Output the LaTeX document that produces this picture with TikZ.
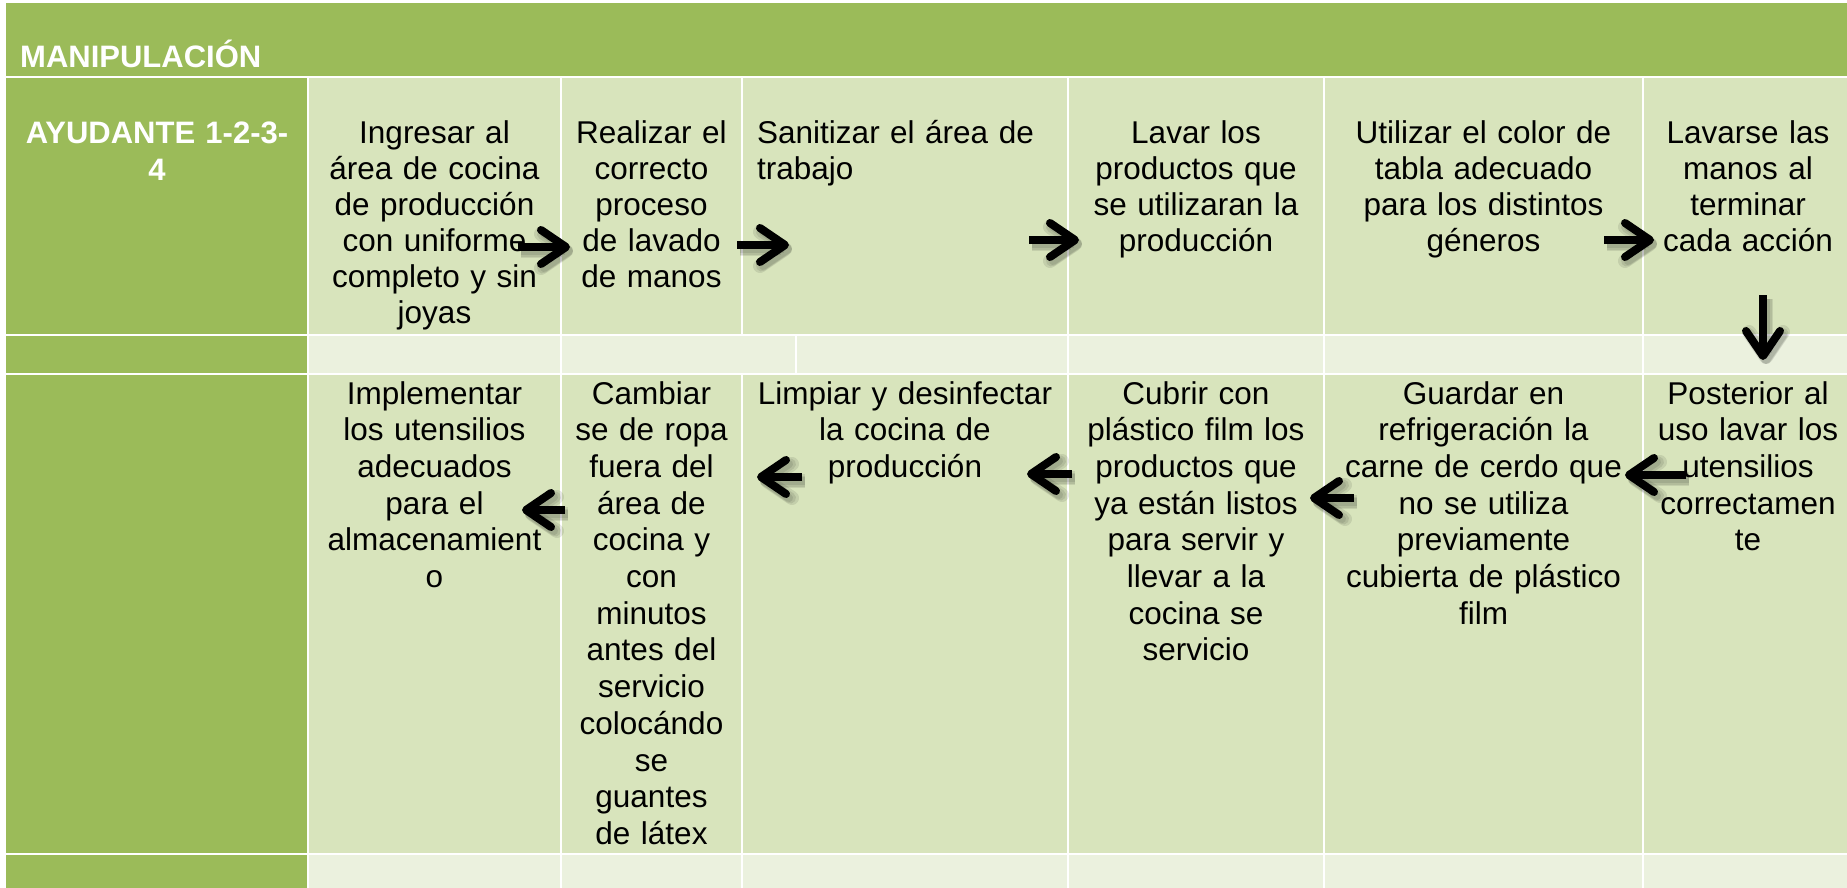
\documentclass[tikz,border=0pt]{standalone}
\usepackage{fontspec}
\setmainfont{Liberation Sans}
\usetikzlibrary{arrows.meta}
\definecolor{hdrgreen}{HTML}{9BBB59}
\definecolor{cellgreen}{HTML}{D8E4BC}
\definecolor{bandgreen}{HTML}{EBF1DE}
\begin{document}
\begin{tikzpicture}[x=1pt,y=-1pt,
  hdrtext/.style={inner sep=0pt, text=white, font=\bfseries\fontsize{31}{36}\selectfont},
  cellone/.style={anchor=base, inner sep=0pt, text width=400pt, align=center,
    font=\fontsize{31.5}{35.9}\selectfont},
  cellthree/.style={anchor=base, inner sep=0pt, text width=400pt, align=center,
    font=\fontsize{31.5}{36.7}\selectfont},
  gridline/.style={white, line width=2.5pt},
  flowarrow/.style={black, line width=8pt,
    -{Straight Barb[length=25pt,width=34pt,round]}},
  arrowshade/.style={black, opacity=0.09, line width=#1,
    -{Straight Barb[length=25pt,width=34pt,round]}},
]
\useasboundingbox (0,0) rectangle (1847,888);
\fill[white] (0,0) rectangle (1847,888);

% --- table fills ---
\fill[hdrgreen] (6,3) rectangle (1847,77);
\fill[hdrgreen] (6,77) rectangle (308,888);
\fill[cellgreen] (308,77) rectangle (1847,335);
\fill[bandgreen] (308,335) rectangle (1847,374);
\fill[cellgreen] (308,374) rectangle (1847,854);
\fill[bandgreen] (308,854) rectangle (1847,888);

% --- white grid ---
\foreach \y in {77,335,374,854} \draw[gridline] (6,\y) -- (1847,\y);
\foreach \x in {308,561,1068,1324,1643} \draw[gridline] (\x,77) -- (\x,888);
\draw[gridline] (742,77) -- (742,335);
\draw[gridline] (742,374) -- (742,888);
\draw[gridline] (796,335) -- (796,374);

% --- header texts ---
\node[hdrtext, anchor=base west] (title) at (20,68) {MANIPULACIÓN};
\node[hdrtext, anchor=base, text width=300pt, align=center] (role) at (157,144)
  {AYUDANTE 1-2-3-\\4};

% --- first row of steps ---
\node[cellone] (s1) at (434.5,144) {Ingresar al\\área de cocina\\de producción\\con uniforme\\completo y sin\\joyas};
\node[cellone] (s2) at (651.5,144) {Realizar el\\correcto\\proceso\\de lavado\\de manos};
\node[cellone, anchor=base west, align=left] (s3) at (757,144) {Sanitizar el área de\\trabajo};
\node[cellone] (s4) at (1196,144) {Lavar los\\productos que\\se utilizaran la\\producción};
\node[cellone] (s5) at (1483.5,144) {Utilizar el color de\\tabla adecuado\\para los distintos\\géneros};
\node[cellone] (s6) at (1748,144) {Lavarse las\\manos al\\terminar\\cada acción};

% --- second row of steps ---
\node[cellthree] (s7) at (1748,404) {Posterior al\\uso lavar los\\utensilios\\correctamen\\te};
\node[cellthree] (s8) at (1483.5,404) {Guardar en\\refrigeración la\\carne de cerdo que\\no se utiliza\\previamente\\cubierta de plástico\\film};
\node[cellthree] (s9) at (1196,404) {Cubrir con\\plástico film los\\productos que\\ya están listos\\para servir y\\llevar a la\\cocina se\\servicio};
\node[cellthree] (s10) at (905,404) {Limpiar y desinfectar\\la cocina de\\producción};
\node[cellthree] (s11) at (651.5,404) {Cambiar\\se de ropa\\fuera del\\área de\\cocina y\\con\\minutos\\antes del\\servicio\\colocándo\\se\\guantes\\de látex};
\node[cellthree] (s12) at (434.5,404) {Implementar\\los utensilios\\adecuados\\para el\\almacenamient\\o};

% --- arrow end points ---
\coordinate (a1s) at (518,247);  \coordinate (a1e) at (570,247);
\coordinate (a2s) at (737,245);  \coordinate (a2e) at (789,245);
\coordinate (a3s) at (1029,240); \coordinate (a3e) at (1079,240);
\coordinate (a4s) at (1604,240); \coordinate (a4e) at (1654,240);
\coordinate (a5s) at (1763,295); \coordinate (a5e) at (1763,360);
\coordinate (a6s) at (1686,475); \coordinate (a6e) at (1625,475);
\coordinate (a7s) at (1354,498); \coordinate (a7e) at (1310,498);
\coordinate (a8s) at (1072,474); \coordinate (a8e) at (1027,474);
\coordinate (a9s) at (802,477);  \coordinate (a9e) at (757,477);
\coordinate (a10s) at (565,510); \coordinate (a10e) at (522,510);

% --- arrows with a soft drop shadow (stacked faint layers) ---
\foreach \s/\e in {a1s/a1e,a2s/a2e,a3s/a3e,a4s/a4e,a5s/a5e,
                   a6s/a6e,a7s/a7e,a8s/a8e,a9s/a9e,a10s/a10e}{
  \draw[arrowshade=14pt, transform canvas={shift={(3,4)}}] (\s) -- (\e);
  \draw[arrowshade=11pt, transform canvas={shift={(3,4)}}] (\s) -- (\e);
  \draw[arrowshade=8pt, transform canvas={shift={(3,4)}}] (\s) -- (\e);
  \draw[flowarrow] (\s) -- (\e);
}
\end{tikzpicture}
\end{document}
